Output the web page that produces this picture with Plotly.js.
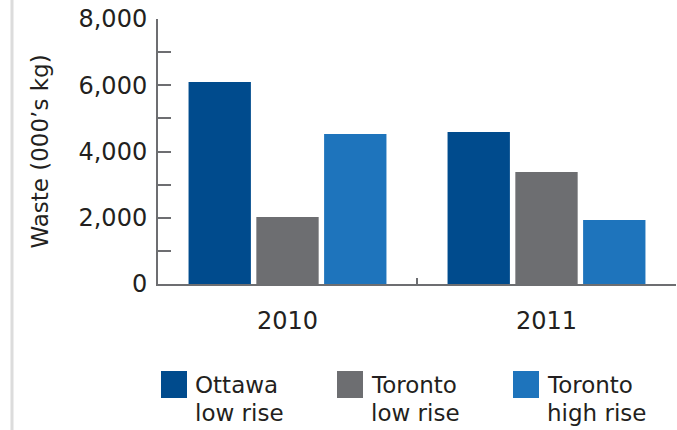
<!DOCTYPE html>
<html>
<head>
<meta charset="utf-8">
<script src="https://cdn.plot.ly/plotly-3.0.1.min.js"></script>
<style>
  html, body { margin: 0; padding: 0; background: #ffffff; }
  #chart { width: 677px; height: 430px; }
</style>
</head>
<body>
<div id="chart"></div>
<script>
// ---- data ----
const years = ['2010', '2011'];
const seriesLine1 = ['Ottawa', 'Toronto', 'Toronto'];
const seriesLine2 = ['low rise', 'low rise', 'high rise'];
const ottawaLowRise = [6100, 4590];
const torontoLowRise = [2020, 3380];
const torontoHighRise = [4530, 1930];
const seriesColors = ['#004b8d', '#6d6e71', '#1e74bc'];
const yTitle = 'Waste (000’s kg)';

// ---- layout geometry ----
const W = 677, H = 430;
const M = { l: 158, r: 1, t: 19, b: 146 };
const PW = W - M.l - M.r, PH = H - M.t - M.b;
const px2x = (px) => (px - M.l) / PW;
const py2y = (py) => (H - M.b - py) / PH;

const FONT = 'DejaVu Sans, sans-serif';
const TXT = '#231f20';
const AX = '#6d6e71';
const FS = 24;

const allValues = [ottawaLowRise, torontoLowRise, torontoHighRise];
const traces = allValues.map((vals, i) => ({
  type: 'bar',
  x: years,
  y: vals,
  name: seriesLine1[i] + ' ' + seriesLine2[i],
  marker: { color: seriesColors[i], line: { width: 0 } },
  hoverinfo: 'x+y',
  showlegend: false
}));

// manual legend (large square swatches + two-line labels)
const legendStartX = 161, legendStep = 176, swatch = 26, legendTop = 371;
const shapes = [
  { type: 'line', xref: 'paper', yref: 'paper',
    x0: px2x(12), x1: px2x(12), y0: py2y(H), y1: py2y(0),
    line: { color: '#dcdcdc', width: 3 } }
];
const annotations = [];
seriesLine1.forEach((l1, i) => {
  const x0 = legendStartX + i * legendStep;
  shapes.push({ type: 'rect', xref: 'paper', yref: 'paper',
    x0: px2x(x0), x1: px2x(x0 + swatch),
    y0: py2y(legendTop + swatch + 1), y1: py2y(legendTop),
    fillcolor: seriesColors[i], line: { width: 0 } });
  [l1, seriesLine2[i]].forEach((t, j) => {
    annotations.push({ xref: 'paper', yref: 'paper',
      x: px2x(x0 + swatch + 6), y: py2y(385 + j * 28),
      xanchor: 'left', yanchor: 'middle', align: 'left', showarrow: false,
      text: t, font: { family: FONT, size: 23, color: TXT } });
  });
});

const layout = {
  width: W, height: H,
  margin: M,
  paper_bgcolor: '#ffffff', plot_bgcolor: '#ffffff',
  font: { family: FONT, size: FS, color: TXT },
  barmode: 'group',
  bargap: 0.215,
  bargroupgap: 0.08,
  showlegend: false,
  xaxis: {
    type: 'category',
    showline: true, linecolor: AX, linewidth: 2,
    ticks: 'inside', tickson: 'boundaries', ticklen: 6, tickwidth: 2, tickcolor: AX,
    showgrid: false, zeroline: false,
    ticklabelstandoff: 14,
    tickfont: { family: FONT, size: FS, color: TXT },
    fixedrange: true
  },
  yaxis: {
    range: [0, 8000],
    tickvals: [0, 2000, 4000, 6000, 8000],
    tickformat: ',d',
    showline: true, linecolor: AX, linewidth: 2,
    ticks: 'inside', ticklen: 13, tickwidth: 2, tickcolor: AX,
    minor: { dtick: 1000, ticks: 'inside', ticklen: 13, tickwidth: 2, tickcolor: AX, showgrid: false },
    showgrid: false, zeroline: false,
    ticklabelstandoff: 4,
    tickfont: { family: FONT, size: FS, color: TXT },
    title: { text: yTitle, font: { family: FONT, size: 23, color: TXT }, standoff: 23 },
    fixedrange: true
  },
  shapes: shapes,
  annotations: annotations
};

Plotly.newPlot('chart', traces, layout, { displayModeBar: false, staticPlot: true });
</script>
</body>
</html>
